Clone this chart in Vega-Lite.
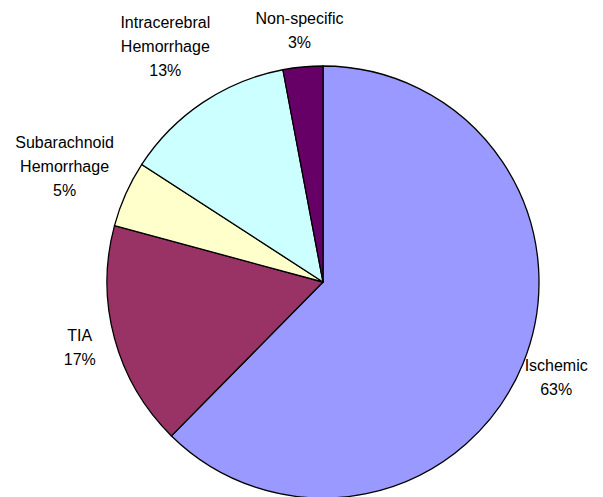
{
  "$schema": "https://vega.github.io/schema/vega-lite/v6.json",
  "width": 560,
  "height": 430,
  "autosize": {"type": "none"},
  "padding": {"left": 43, "top": 67, "right": 0, "bottom": 0},
  "background": "white",
  "view": {"stroke": null},
  "data": {
    "values": [
      {"seq": 1, "category": "Ischemic", "pct": 63},
      {"seq": 2, "category": "TIA", "pct": 17},
      {"seq": 3, "category": "Subarachnoid Hemorrhage", "pct": 5},
      {"seq": 4, "category": "Intracerebral Hemorrhage", "pct": 13},
      {"seq": 5, "category": "Non-specific", "pct": 3}
    ]
  },
  "transform": [
    {"calculate": "replace(datum.category, ' ', '\\n') + '\\n' + datum.pct + '%'", "as": "label"}
  ],
  "encoding": {
    "theta": {"field": "pct", "type": "quantitative", "stack": true},
    "order": {"field": "seq", "type": "quantitative"},
    "color": {
      "field": "category",
      "type": "nominal",
      "scale": {
        "domain": ["Ischemic", "TIA", "Subarachnoid Hemorrhage", "Intracerebral Hemorrhage", "Non-specific"],
        "range": ["#9999FF", "#993366", "#FFFFCC", "#CCFFFF", "#660066"]
      },
      "legend": null
    }
  },
  "layer": [
    {
      "mark": {"type": "arc", "outerRadius": 216, "stroke": "black", "strokeWidth": 1.3}
    },
    {
      "mark": {
        "type": "text",
        "radius": {"expr": "indexof(datum.category, ' ') >= 0 ? 283 : 252"},
        "dy": {"expr": "indexof(datum.category, ' ') >= 0 ? -24 : -12"},
        "lineBreak": "\n",
        "lineHeight": 24,
        "font": "Liberation Sans",
        "fontSize": 16,
        "align": "center",
        "baseline": "middle"
      },
      "encoding": {
        "text": {"field": "label"},
        "color": {"value": "black"}
      }
    }
  ]
}
